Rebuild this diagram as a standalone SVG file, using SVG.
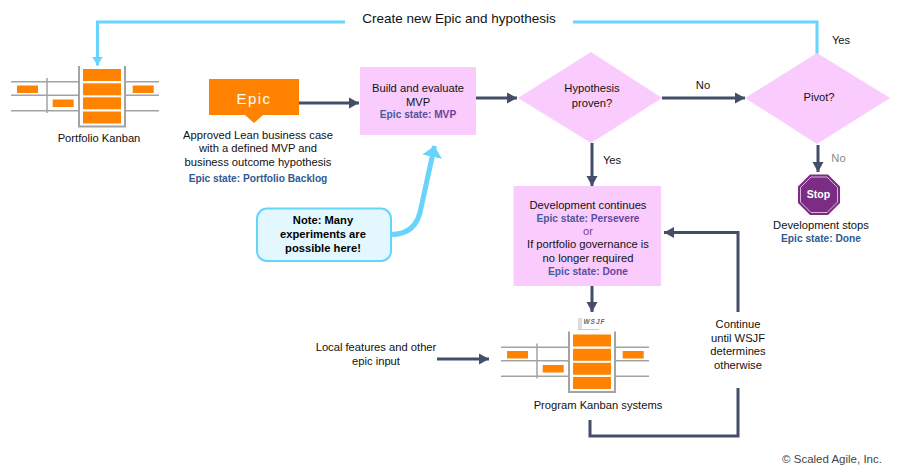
<svg xmlns="http://www.w3.org/2000/svg" width="900" height="472" viewBox="0 0 900 472">
<style>
text{font-family:"Liberation Sans",Arial,sans-serif;font-size:11.2px;fill:#111;text-anchor:middle}
.st{font-weight:bold;font-size:10.2px;fill:#2f5a94}
.stp{font-weight:bold;font-size:10.2px;fill:url(#bp)}
.pink{fill:#f9ccfd}
.dk{fill:none;stroke:#454e68;stroke-width:3}
.bl{fill:none;stroke:#66d4fb;stroke-width:3}
.g{stroke:#a3a3a3;stroke-width:1.500;fill:none}
.o{fill:#ff8300}
.nb{font-weight:bold;fill:#000}
</style>
<defs>
<linearGradient id="bp"><stop offset="0" stop-color="#3f5f9c"/><stop offset="1" stop-color="#6f3f97"/></linearGradient>
<marker id="ad" markerUnits="userSpaceOnUse" markerWidth="11" markerHeight="12" refX="10" refY="6" orient="auto"><path d="M0 0.500L10 6L0 11.500Z" fill="#454e68"/></marker>
<marker id="ab" markerUnits="userSpaceOnUse" markerWidth="10" markerHeight="12" refX="9" refY="6" orient="auto"><path d="M0 0.500L9 6L0 11.500Z" fill="#66d4fb"/></marker>
<marker id="abig" markerUnits="userSpaceOnUse" markerWidth="12" markerHeight="22" refX="11" refY="11" orient="auto"><path d="M0 1L11 11L0 21Z" fill="#66d4fb"/></marker>
<g id="kb">
<path class="g" d="M11 81.700H79M11 95.300H79M11 110.700H79M125 81.700H159M125 95.300H159M125 110.700H159M47 78V113"/>
<path d="M79 66V126.500H125V66" fill="none" stroke="#a3a3a3" stroke-width="2"/>
<rect class="o" x="83" y="69" width="38" height="12"/><rect class="o" x="83" y="83.300" width="38" height="12"/><rect class="o" x="83" y="97.300" width="38" height="12"/><rect class="o" x="83" y="111.500" width="38" height="12"/>
<rect class="o" x="17" y="85.500" width="21" height="7.500"/><rect class="o" x="52.700" y="99.500" width="21" height="7.500"/><rect class="o" x="132.700" y="85.500" width="21" height="7.500"/>
</g>
</defs>
<rect width="900" height="472" fill="#fff"/>
<g id="connectors">
<path class="bl" d="M345 22H97.500V65.500" marker-end="url(#ab)"/>
<path class="bl" d="M573 22H817V54"/>
<path class="dk" d="M299 103H359" marker-end="url(#ad)"/>
<path class="dk" d="M476 98H517" marker-end="url(#ad)"/>
<path class="dk" d="M662 98H745" marker-end="url(#ad)"/>
<path class="dk" d="M592 143V186" marker-end="url(#ad)"/>
<path class="dk" d="M818 145V172" marker-end="url(#ad)"/>
<path class="dk" d="M592 286V312" marker-end="url(#ad)"/>
<path class="dk" d="M738 312V232.500H664" marker-end="url(#ad)"/>
<path class="dk" d="M590 420V436H738V388"/>
<path class="dk" d="M437 359H489" marker-end="url(#ad)"/>
<path class="bl" d="M391 234.500C408 234.500 418 226 421 208L434.500 146" marker-end="url(#abig)" style="stroke-width:5"/>
</g>
<g id="portfolio-kanban"><use href="#kb"/><text x="99" y="142">Portfolio Kanban</text></g>
<g id="epic">
<path class="o" d="M209 79H299V115H263L254 123L245 115H209Z"/>
<text x="254" y="103.500" style="fill:#fff;font-size:15px;letter-spacing:1.500px">Epic</text>
<text x="258" y="138.500">Approved Lean business case</text>
<text x="258" y="152">with a defined MVP and</text>
<text x="258" y="165.500">business outcome hypothesis</text>
<text x="258" y="181.500" class="st">Epic state: Portfolio Backlog</text>
</g>
<g id="note">
<rect x="257" y="208.500" width="134" height="52.500" rx="10" fill="#e3f7ff" stroke="#66d4fb" stroke-width="2"/>
<text x="323" y="224" class="nb">Note: Many</text>
<text x="323" y="238" class="nb">experiments are</text>
<text x="323" y="251.500" class="nb">possible here!</text>
</g>
<g id="build">
<rect class="pink" x="360" y="67" width="116" height="68"/>
<text x="418" y="92">Build and evaluate</text>
<text x="418" y="106">MVP</text>
<text x="418" y="118" class="stp">Epic state: MVP</text>
</g>
<g id="hypothesis">
<path class="pink" d="M518 98L591 52L662 98L591 143Z"/>
<text x="592" y="92">Hypothesis</text>
<text x="592" y="106.500">proven?</text>
</g>
<g id="pivot">
<path class="pink" d="M745 98L817 53L890 98L817 144Z"/>
<text x="819" y="100.500">Pivot?</text>
</g>
<g id="stop">
<path d="M810 174.500H828L840 186.500V203L828 215H810L798 203V186.500Z" fill="#7b2d83"/>
<path d="M811 177H827L837.500 187.500V202L827 212.500H811L800.500 202V187.500Z" fill="none" stroke="#f3d5f5" stroke-width="0.800"/>
<text x="818.500" y="198" style="fill:#fff;font-weight:bold;font-size:10.500px">Stop</text>
<text x="821" y="229">Development stops</text>
<text x="821" y="242" class="st">Epic state: Done</text>
</g>
<g id="develop">
<rect class="pink" x="513.500" y="186" width="147.500" height="100"/>
<text x="588" y="208.500">Development continues</text>
<text x="588" y="222" class="stp">Epic state: Persevere</text>
<text x="588" y="235" style="fill:#7b3f8c">or</text>
<text x="588" y="248">If portfolio governance is</text>
<text x="588" y="262">no longer required</text>
<text x="588" y="274.500" class="stp">Epic state: Done</text>
</g>
<g id="program-kanban">
<use href="#kb" x="490" y="265.500"/>
<rect x="578" y="318" width="4" height="12" fill="#ddd"/><path d="M578 329.500H599" stroke="#ccc"/>
<text x="594.500" y="323.500" style="font-size:6.500px;font-style:italic;font-weight:bold;fill:#666;letter-spacing:1px">WSJF</text>
<text x="598" y="409">Program Kanban systems</text>
</g>
<g id="local"><text x="376" y="351">Local features and other</text><text x="376" y="364.500">epic input</text></g>
<g id="continue"><text x="738" y="328">Continue</text><text x="738" y="342">until WSJF</text><text x="738" y="355">determines</text><text x="738" y="369">otherwise</text></g>
<g id="labels">
<text x="459" y="23" style="font-size:13.500px">Create new Epic and hypothesis</text>
<text x="703" y="89">No</text>
<text x="612" y="164">Yes</text>
<text x="841" y="44">Yes</text>
<text x="838.500" y="162" style="fill:#888">No</text>
<text x="832" y="463" style="fill:#444;font-size:11.500px">© Scaled Agile, Inc.</text>
</g>
</svg>
